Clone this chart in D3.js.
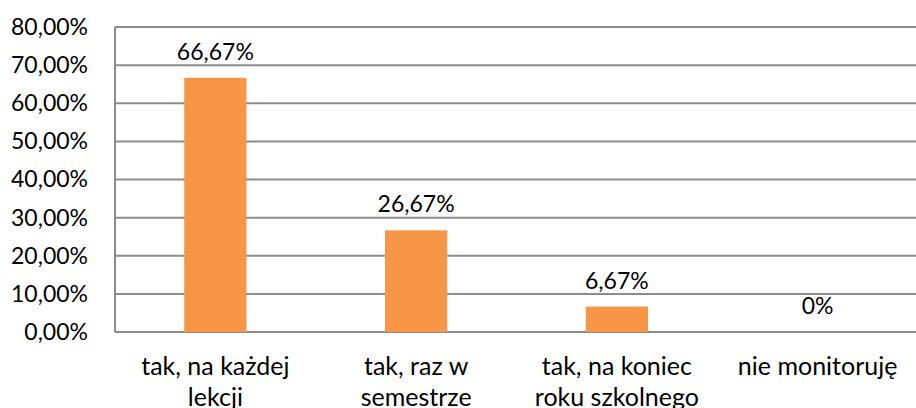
<!DOCTYPE html>
<html>
<head>
<meta charset="utf-8">
<script src="https://cdn.jsdelivr.net/npm/d3@7"></script>
<style>
  body { margin: 0; background: #fff; }
  svg text { font-family: Lato, "Open Sans", sans-serif; fill: #000; }
</style>
</head>
<body>
<div id="chart"></div>
<script>
// categories (two-line labels) and values in percent
var categories = ["tak, na każdej|lekcji", "tak, raz w|semestrze", "tak, na koniec|roku szkolnego", "nie monitoruję"];
var values = [66.67, 26.67, 6.67, 0];
var valueLabels = ["66,67%", "26,67%", "6,67%", "0%"];
var yTicks = [0, 10, 20, 30, 40, 50, 60, 70, 80];

var W = 916, H = 408;
var plot = { left: 115, top: 27, right: 918, bottom: 332 };

var svg = d3.select("#chart").append("svg")
  .attr("width", W).attr("height", H);

var x = d3.scaleBand()
  .domain(d3.range(categories.length))
  .range([plot.left, plot.right])
  .paddingInner(0.69).paddingOuter(0.345);

var xOuter = d3.scaleBand()
  .domain(d3.range(categories.length))
  .range([plot.left, plot.right]);

var y = d3.scaleLinear().domain([0, 80]).range([plot.bottom, plot.top]);

// Gridlines
svg.append("g")
  .selectAll("line").data(yTicks).join("line")
  .attr("x1", plot.left).attr("x2", plot.right)
  .attr("y1", function(d){ return y(d); }).attr("y2", function(d){ return y(d); })
  .attr("stroke", "#8c8c8c").attr("stroke-width", 2);

// Y axis
var yAxis = d3.axisLeft(y).tickValues(yTicks).tickSize(0).tickPadding(27)
  .tickFormat(function(d){ return d.toFixed(2).replace(".", ",") + "%"; });
var yg = svg.append("g").attr("transform", "translate(" + plot.left + ",0)").call(yAxis);
yg.select(".domain").remove();
yg.selectAll("text").attr("font-size", 23).style("font-family", "Lato, sans-serif");
svg.append("line")
  .attr("x1", plot.left).attr("x2", plot.left)
  .attr("y1", plot.top).attr("y2", plot.bottom)
  .attr("stroke", "#8c8c8c").attr("stroke-width", 2);

// Bars
svg.append("g")
  .selectAll("rect").data(values).join("rect")
  .attr("x", function(d, i){ return x(i); })
  .attr("width", x.bandwidth())
  .attr("y", function(d){ return y(d); })
  .attr("height", function(d){ return plot.bottom - y(d); })
  .attr("fill", "#F79646");

// Value labels
svg.append("g")
  .selectAll("text").data(values).join("text")
  .attr("x", function(d, i){ return x(i) + x.bandwidth() / 2; })
  .attr("y", function(d){ return y(d) - 18; })
  .attr("text-anchor", "middle")
  .attr("font-size", 23)
  .text(function(d, i){ return valueLabels[i]; });

// Category labels
var cat = svg.append("g")
  .selectAll("text").data(categories).join("text")
  .attr("x", function(d, i){ return xOuter(i) + xOuter.bandwidth() / 2; })
  .attr("y", 375)
  .attr("text-anchor", "middle")
  .attr("font-size", 25);
cat.each(function(d){
  var t = d3.select(this);
  d.split("|").forEach(function(line, k){
    t.append("tspan")
      .attr("x", t.attr("x"))
      .attr("dy", k === 0 ? 0 : 31)
      .text(line);
  });
});
</script>
</body>
</html>
